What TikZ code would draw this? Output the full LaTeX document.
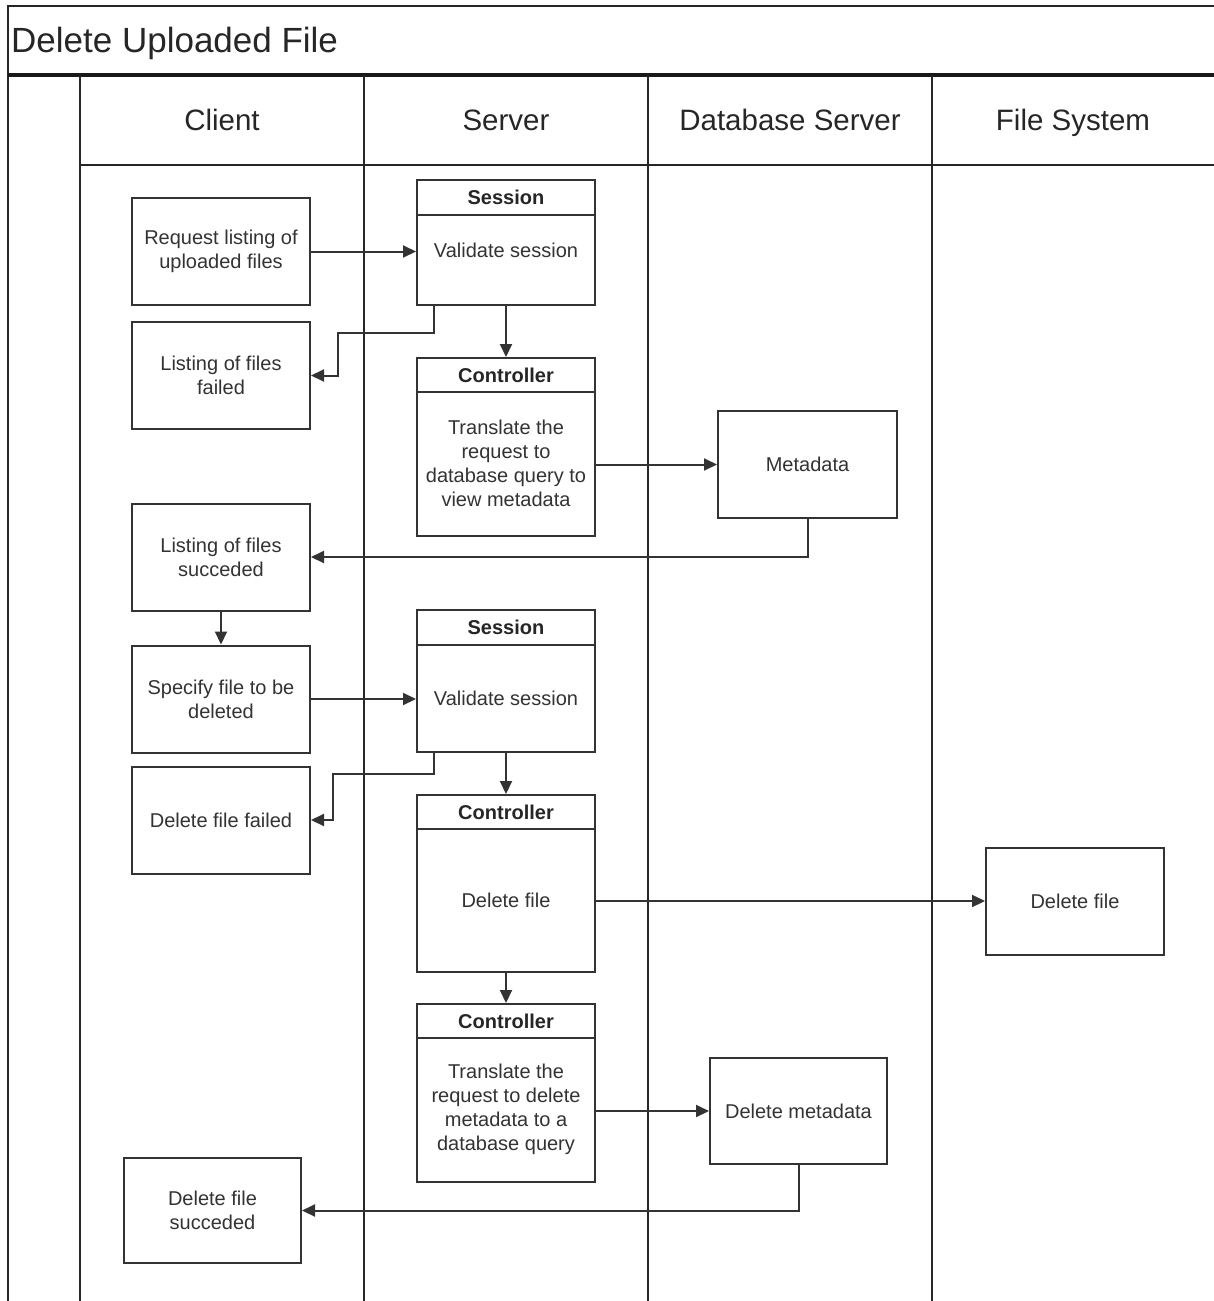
\documentclass[tikz,border=0pt]{standalone}
\usepackage{fontspec}
\setmainfont{Liberation Sans}
\usetikzlibrary{arrows.meta,calc}

\begin{document}
\begin{tikzpicture}[x=1pt,y=-1pt,
  ink/.style={draw=black!80, line width=2pt},
  lane/.style={draw=black!85, line width=2pt},
  box/.style={ink, rectangle, inner sep=0pt, minimum width=178pt, minimum height=107pt, fill=white},
  cls/.style={ink, rectangle, inner sep=0pt, minimum width=178pt, fill=white},
  txt/.style={text=black!80, font=\fontsize{20}{24}\selectfont, align=center, inner sep=0pt},
  hdr/.style={text=black!85, font=\bfseries\fontsize{20}{24}\selectfont, inner sep=0pt},
  lanetitle/.style={text=black!85, font=\fontsize{29.5}{34}\selectfont, inner sep=0pt, anchor=base},
  flow/.style={ink, -{Triangle[length=13pt,width=12pt]}},
]
\useasboundingbox (0,0) rectangle (1214,1301);

% pool frame and lanes
\draw[lane] (8,1301) -- (8,6) -- (1214,6);
\draw[draw=black!90, line width=3.5pt] (8,75) -- (1214,75);
\draw[lane] (80,165) -- (1214,165);
\foreach \lx in {80,364,648,932} \draw[lane] (\lx,75) -- (\lx,1301);

\node[text=black!85, font=\fontsize{35}{40}\selectfont, inner sep=0pt, anchor=base west] (pool) at (11,52) {Delete Uploaded File};
\node[lanetitle] (lclient) at (222,130) {Client};
\node[lanetitle] (lserver) at (506,130) {Server};
\node[lanetitle] (ldb) at (790,130) {Database Server};
\node[lanetitle] (lfs) at (1073,130) {File System};

% client lane
\node[box, txt] (req)   at (221,251.5) {Request listing of\\uploaded files};
\node[box, txt] (lfail) at (221,375.5) {Listing of files\\failed};
\node[box, txt] (lsucc) at (221,557)   {Listing of files\\succeded};
\node[box, txt] (spec)  at (221,699)   {Specify file to be\\deleted};
\node[box, txt] (dfail) at (221,820)   {Delete file failed};
\node[box, txt, minimum width=177pt, minimum height=105pt] (dsucc) at (212.5,1210.5) {Delete file\\succeded};

% server lane: components with a title compartment
\node[cls, minimum height=125pt] (s1) at (506,242.5) {};
\draw[ink] (s1.north west) ++(0,36) -- ++(178,0);
\node[hdr] (s1h) at (506,197) {Session};
\node[txt] (s1b) at (506,250) {Validate session};

\node[cls, minimum height=178pt] (c1) at (506,447) {};
\draw[ink] (c1.north west) ++(0,35) -- ++(178,0);
\node[hdr] (c1h) at (506,375) {Controller};
\node[txt] (c1b) at (506,463) {Translate the\\request to\\database query to\\view metadata};

\node[cls, minimum height=142pt] (s2) at (506,681) {};
\draw[ink] (s2.north west) ++(0,36) -- ++(178,0);
\node[hdr] (s2h) at (506,627) {Session};
\node[txt] (s2b) at (506,698) {Validate session};

\node[cls, minimum height=177pt] (c2) at (506,883.5) {};
\draw[ink] (c2.north west) ++(0,35) -- ++(178,0);
\node[hdr] (c2h) at (506,812) {Controller};
\node[txt] (c2b) at (506,900) {Delete file};

\node[cls, minimum height=178pt] (c3) at (506,1093) {};
\draw[ink] (c3.north west) ++(0,35) -- ++(178,0);
\node[hdr] (c3h) at (506,1021) {Controller};
\node[txt] (c3b) at (506,1109.5) {Translate the\\request to delete\\metadata to a\\database query};

% database and file system lanes
\node[box, txt, minimum width=179pt] (meta) at (807.5,464.5) {Metadata};
\node[box, txt] (fs) at (1075,901) {Delete file};
\node[box, txt, minimum width=177pt, minimum height=106pt] (dm) at (798.5,1111) {Delete metadata};

% flows
\draw[flow] (req.east) -- (req.east -| s1.west);
\draw[flow] ($(s1.south west)+(18,0)$) -- ++(0,27) -| ($(lfail.east)+(27,0)$) -- (lfail.east);
\draw[flow] (s1.south) -- (c1.north);
\draw[flow] (meta.west -| c1.east) -- (meta.west);
\draw[flow] (meta.south) |- (lsucc.east);
\draw[flow] (lsucc.south) -- (spec.north);
\draw[flow] (spec.east) -- (spec.east -| s2.west);
\draw[flow] ($(s2.south west)+(18,0)$) -- ++(0,21) -| ($(dfail.east)+(22,0)$) -- (dfail.east);
\draw[flow] (s2.south) -- (c2.north);
\draw[flow] (fs.west -| c2.east) -- (fs.west);
\draw[flow] (c2.south) -- (c3.north);
\draw[flow] (dm.west -| c3.east) -- (dm.west);
\draw[flow] (dm.south) |- (dsucc.east);
\end{tikzpicture}
\end{document}
